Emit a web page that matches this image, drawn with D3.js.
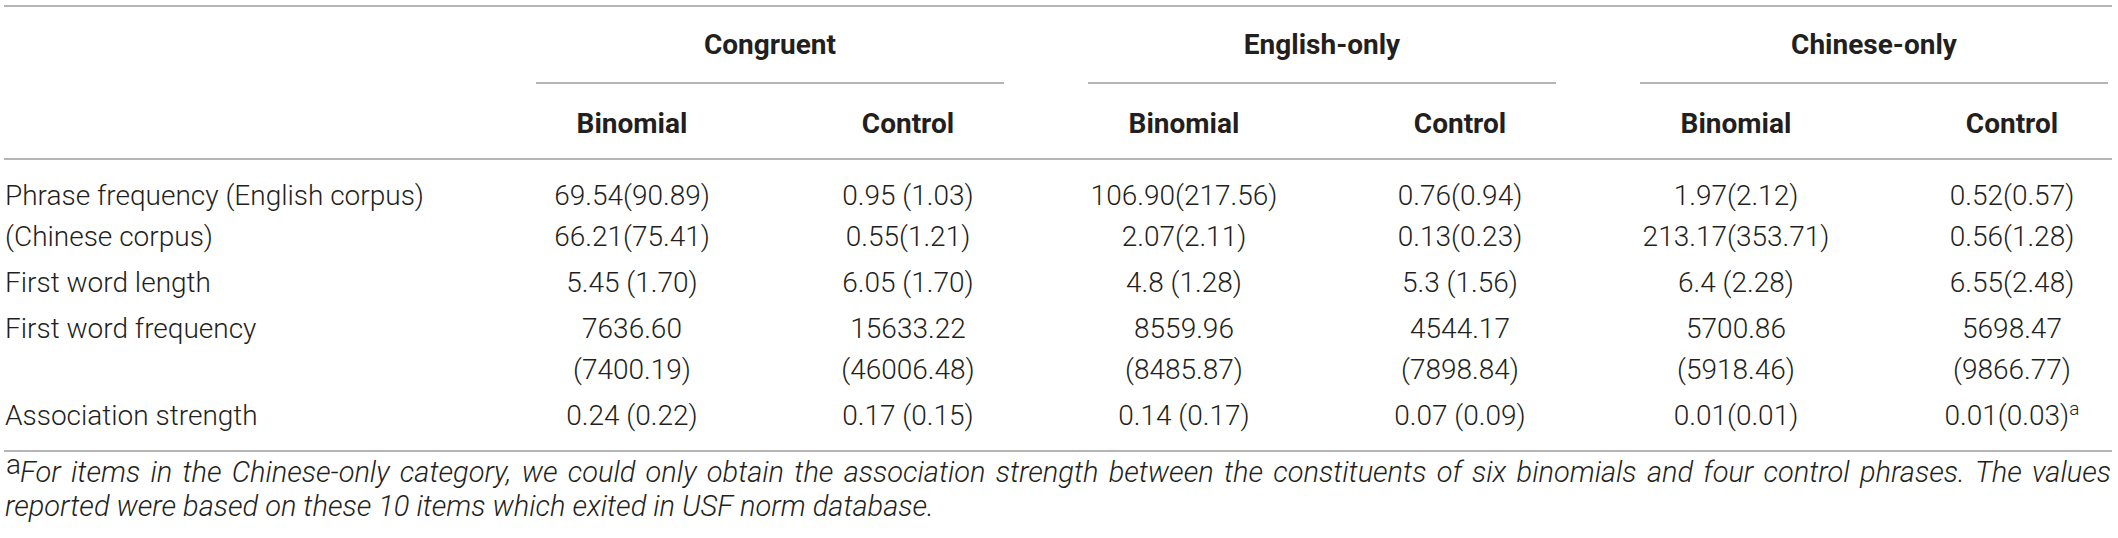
<!DOCTYPE html>
<html>
<head>
<meta charset="utf-8">
<script src="https://cdn.jsdelivr.net/npm/d3@7"></script>
<style>
  body { margin: 0; background: #fff; }
  svg { display: block; }
  .cell { font-family: Roboto, 'Liberation Sans', sans-serif; font-weight: 300; font-size: 28px; fill: #231f20; }
  .head { font-family: Roboto, 'Liberation Sans', sans-serif; font-weight: 700; font-size: 28px; fill: #231f20; }
  .note { font-family: Roboto, 'Liberation Sans', sans-serif; font-weight: 300; font-style: italic; font-size: 29px; fill: #231f20; }
</style>
</head>
<body>
<svg width="2118" height="538"></svg>
<script>
// Table content
const groups = ['Congruent', 'English-only', 'Chinese-only'];
const subCols = ['Binomial', 'Control'];
const rowLabels = ['Phrase frequency (English corpus)', '(Chinese corpus)', 'First word length', 'First word frequency', 'Association strength'];

const phraseFreqEnglish = ['69.54(90.89)', '0.95 (1.03)', '106.90(217.56)', '0.76(0.94)', '1.97(2.12)', '0.52(0.57)'];
const phraseFreqChinese = ['66.21(75.41)', '0.55(1.21)', '2.07(2.11)', '0.13(0.23)', '213.17(353.71)', '0.56(1.28)'];
const firstWordLength = ['5.45 (1.70)', '6.05 (1.70)', '4.8 (1.28)', '5.3 (1.56)', '6.4 (2.28)', '6.55(2.48)'];
const firstWordFreqMean = ['7636.60', '15633.22', '8559.96', '4544.17', '5700.86', '5698.47'];
const firstWordFreqSD = ['(7400.19)', '(46006.48)', '(8485.87)', '(7898.84)', '(5918.46)', '(9866.77)'];
const associationStrength = ['0.24 (0.22)', '0.17 (0.15)', '0.14 (0.17)', '0.07 (0.09)', '0.01(0.01)', '0.01(0.03)'];

const footnote1 = 'For items in the Chinese-only category, we could only obtain the association strength between the constituents of six binomials and four control phrases. The values';
const footnote2 = 'reported were based on these 10 items which exited in USF norm database.';

const svg = d3.select('svg');
const width = +svg.attr('width');

const lineColor = '#b5b5b5';
const left = 4, right = 2112;

// column positions (6 value columns)
const colKeys = d3.cross(groups, subCols).map(d => d.join('|'));
const xCol = d3.scalePoint().domain(colKeys).range([632, 2012]);

// body text lines: [line index, row index]; rows get a little extra padding
const linePos = [[0, 0], [1, 0], [2, 1], [3, 2], [4, 2], [5, 3]];
const rowPad = 0.12;
const yLine = d3.scaleLinear().domain([0, 1]).range([205, 246]);
const yOf = li => yLine(linePos[li][0] + linePos[li][1] * rowPad);

// horizontal rules
const rules = [6, 159, 451];
svg.selectAll('line.rule').data(rules)
  .enter().append('line')
    .attr('class', 'rule')
    .attr('x1', left).attr('x2', right)
    .attr('y1', d => d).attr('y2', d => d)
    .attr('stroke', lineColor).attr('stroke-width', 2);

// group headers with underline
const groupCenter = g => (xCol(g + '|Binomial') + xCol(g + '|Control')) / 2;
const halfRule = 234;
const gh = svg.selectAll('g.group').data(groups).enter().append('g').attr('class', 'group');
gh.append('text')
  .attr('class', 'head')
  .attr('x', groupCenter)
  .attr('y', 54)
  .attr('text-anchor', 'middle')
  .text(d => d);
gh.append('line')
  .attr('x1', d => groupCenter(d) - halfRule)
  .attr('x2', d => Math.min(groupCenter(d) + halfRule, right - 1))
  .attr('y1', 83).attr('y2', 83)
  .attr('stroke', lineColor).attr('stroke-width', 2);

// sub headers
svg.selectAll('text.sub').data(colKeys)
  .enter().append('text')
    .attr('class', 'head sub')
    .attr('x', d => xCol(d))
    .attr('y', 133)
    .attr('text-anchor', 'middle')
    .text(d => d.split('|')[1]);

// row labels
const labelLines = [0, 1, 2, 3, 5];
svg.selectAll('text.rowlab').data(rowLabels)
  .enter().append('text')
    .attr('class', 'cell rowlab')
    .attr('x', 5)
    .attr('y', (d, i) => yOf(labelLines[i]))
    .text(d => d);

// body values
const bodyLines = [phraseFreqEnglish, phraseFreqChinese, firstWordLength, firstWordFreqMean, firstWordFreqSD, associationStrength];
bodyLines.forEach((vals, li) => {
  svg.selectAll('text.v' + li).data(vals)
    .enter().append('text')
      .attr('class', 'cell v' + li)
      .attr('x', (d, i) => xCol(colKeys[i]))
      .attr('y', yOf(li))
      .attr('text-anchor', 'middle')
      .each(function(d, i) {
        const t = d3.select(this);
        t.append('tspan').text(d);
        if (li === 5 && i === 5) {
          t.append('tspan').attr('font-size', 19).attr('dy', -10).text('a');
        }
      });
});

// footnote, first line justified to full width
const note = svg.append('g');
note.append('text')
  .attr('class', 'cell')
  .attr('x', 6).attr('y', 474)
  .attr('font-size', 19)
  .text('a');

const words = footnote1.split(' ');
const startX = 20;
const tmp = words.map(w => note.append('text').attr('class', 'note').attr('y', 482).text(w));
const widths = tmp.map(t => t.node().getComputedTextLength());
const gap = (right - 1 - startX - d3.sum(widths)) / (words.length - 1);
let cx = startX;
tmp.forEach((t, i) => { t.attr('x', cx); cx += widths[i] + gap; });

note.append('text')
  .attr('class', 'note')
  .attr('x', 5).attr('y', 516)
  .text(footnote2);
</script>
</body>
</html>
